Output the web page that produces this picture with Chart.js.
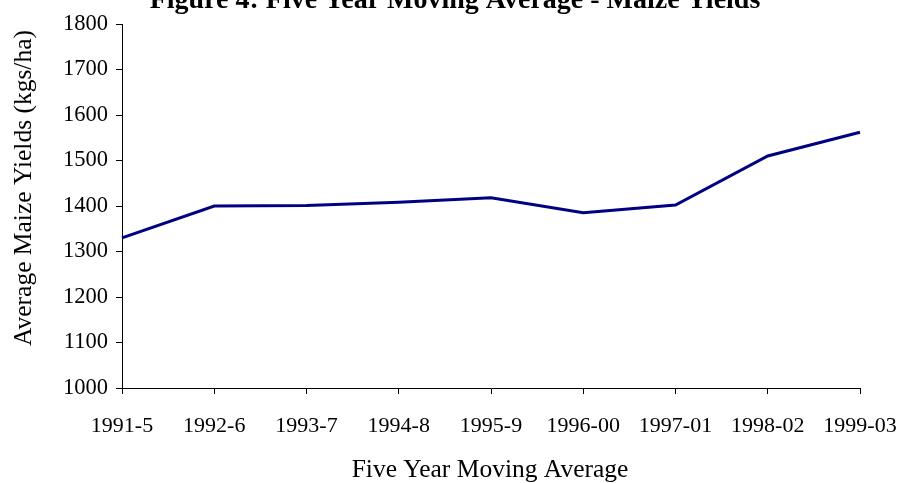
<!DOCTYPE html>
<html><head><meta charset="utf-8">
<script src="https://cdn.jsdelivr.net/npm/chart.js@4"></script>
<style>html,body{margin:0;padding:0;background:#fff;}#wrap{width:898px;height:483px;}</style>
</head><body><div id="wrap"><canvas id="c" width="898" height="483"></canvas></div>
<script>
const categories = ['1991-5','1992-6','1993-7','1994-8','1995-9','1996-00','1997-01','1998-02','1999-03'];
const maizeYields = [1330, 1400, 1401, 1408, 1418, 1385, 1402, 1510, 1562];
const yTicks = [1000, 1100, 1200, 1300, 1400, 1500, 1600, 1700, 1800];
const chartTitle = 'Figure 4: Five Year Moving Average - Maize Yields';
const yTitle = 'Average Maize Yields (kgs/ha)';
const xTitle = 'Five Year Moving Average';

const FONT = "'Liberation Serif', 'Times New Roman', serif";

const textPlugin = {
  id: 'textPlugin',
  afterDraw(chart) {
    const ctx = chart.ctx;
    ctx.save();
    ctx.fillStyle = '#000';
    ctx.font = 'bold 28px ' + FONT;
    ctx.textAlign = 'center';
    ctx.textBaseline = 'alphabetic';
    ctx.fillText(chartTitle, 455, 8);
    ctx.font = '25.5px ' + FONT;
    ctx.fillText(xTitle, 490, 477);
    ctx.translate(31, 188);
    ctx.rotate(-Math.PI / 2);
    ctx.fillText(yTitle, 0, 0);
    ctx.restore();
  }
};

new Chart(document.getElementById('c'), {
  type: 'line',
  data: {
    labels: categories,
    datasets: [{
      data: maizeYields,
      borderColor: '#000080',
      backgroundColor: '#000080',
      borderWidth: 3,
      pointRadius: 0,
      tension: 0,
      fill: false
    }]
  },
  options: {
    responsive: false,
    animation: false,
    devicePixelRatio: 1,
    layout: { padding: { top: 24, right: 38, left: 0, bottom: 0 } },
    plugins: { legend: { display: false }, tooltip: { enabled: false }, title: { display: false } },
    scales: {
      x: {
        offset: false,
        afterFit(s) { s.height = 95; s.paddingLeft = 0; s.paddingRight = 0; },
        grid: { drawOnChartArea: false, drawTicks: true, tickLength: 6, color: '#000', lineWidth: 1 },
        border: { display: true, color: '#000', width: 1 },
        ticks: { color: '#000', font: { family: FONT, size: 22 }, padding: 19, maxRotation: 0, autoSkip: false }
      },
      y: {
        min: 1000, max: 1800,
        afterFit(s) { s.width = 122; s.paddingTop = 0; s.paddingBottom = 0; },
        afterBuildTicks(s) { s.ticks = yTicks.map(v => ({ value: v })); },
        grid: { drawOnChartArea: false, drawTicks: true, tickLength: 6, color: '#000', lineWidth: 1 },
        border: { display: true, color: '#000', width: 1 },
        ticks: { color: '#000', font: { family: FONT, size: 22.5 }, padding: 8, callback: v => String(v) }
      }
    }
  },
  plugins: [textPlugin]
});
</script></body></html>
